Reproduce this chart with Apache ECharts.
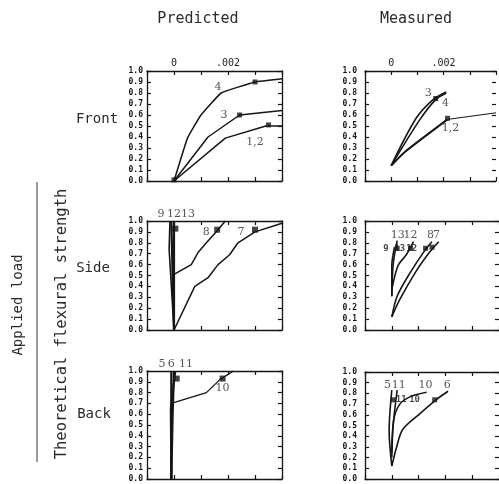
<!DOCTYPE html>
<html>
<head>
<meta charset="utf-8">
<script src="https://cdn.jsdelivr.net/npm/echarts@6/dist/echarts.min.js"></script>
<style>
  html, body { margin: 0; padding: 0; background: #fff; }
  #chart { width: 499px; height: 484px; }
</style>
</head>
<body>
<div id="chart"></div>
<script>
// Strain (in/in) on x, applied load / theoretical flexural strength on y.

// ---- Front, predicted ----
const predFront12 = [[0, 0], [0.0019, 0.39], [0.0034, 0.50], [0.004, 0.50]];
const predFront3  = [[0, 0], [0.00126, 0.40], [0.00243, 0.60], [0.004, 0.64]];
const predFront4  = [[0, 0], [0.0005, 0.39], [0.001, 0.60], [0.00175, 0.80], [0.003, 0.90], [0.004, 0.93]];
const predFrontMarks = [[0, 0.01], [0.003, 0.90], [0.00243, 0.60], [0.0035, 0.51]];
const predFrontLabels = [['4', 0.00163, 0.85], ['3', 0.00185, 0.60], ['1,2', 0.0030, 0.35]];

// ---- Front, measured ----
const measFront3  = [[0, 0.14], [0.00095, 0.57], [0.0016, 0.74], [0.0021, 0.81]];
const measFront4  = [[0, 0.14], [0.0011, 0.56], [0.0017, 0.74], [0.0021, 0.80]];
const measFront12 = [[0, 0.14], [0.0005, 0.26], [0.00215, 0.56]];
const measFront12Tail = [[0.00215, 0.56], [0.004, 0.62]];
const measFrontMarks = [[0.0017, 0.75], [0.00215, 0.57]];
const measFrontLabels = [['3', 0.00141, 0.80], ['4', 0.00207, 0.71], ['1,2', 0.00226, 0.48]];

// ---- Side, predicted ----
const predSide9  = [[0, 0], [-0.00018, 0.74], [-0.00015, 1.0]];
const predSide12 = [[0, 0], [-0.0001, 1.0]];
const predSide13 = [[0, 0], [0, 1.0]];
const predSide8  = [[0, 0], [0, 0.51], [0.00064, 0.60], [0.00089, 0.71], [0.0012, 0.80], [0.0016, 0.91], [0.0019, 1.0]];
const predSide7  = [[0, 0], [0.00077, 0.40], [0.00126, 0.48], [0.00163, 0.60], [0.00206, 0.69], [0.00237, 0.80], [0.003, 0.90], [0.004, 0.98]];
const predSideMarks = [[0.00005, 0.93], [0.0016, 0.92], [0.003, 0.92]];
const predSideLabels = [['8', 0.00119, 0.90], ['7', 0.00248, 0.90]];
const predSideTop = [['9', -0.00048, 1.065], ['12', 0, 1.065], ['13', 0.00052, 1.065]];

// ---- Side, measured ----
const measSide9  = [[0, 0.31], [0, 0.59], [0.0001, 0.76]];
const measSide13 = [[0, 0.31], [0.00005, 0.60], [0.0002, 0.82]];
const measSide12 = [[0, 0.37], [0.00023, 0.59], [0.00054, 0.69], [0.00081, 0.81]];
const measSide8  = [[0, 0.12], [0.0002, 0.31], [0.00067, 0.52], [0.00126, 0.74], [0.0015, 0.81]];
const measSide7  = [[0, 0.12], [0.0003, 0.28], [0.00091, 0.54], [0.0014, 0.71], [0.00175, 0.81]];
const measSideMarks = [[0.0002, 0.75], [0.0007, 0.75], [0.00126, 0.75], [0.0015, 0.76]];
const measSideLabels = [['13', 0.00022, 0.87], ['12', 0.0007, 0.87], ['8', 0.00144, 0.87], ['7', 0.00167, 0.87]];
const measSideTags = [['9', -0.00022, 0.75], ['13', 0.0003, 0.75], ['12', 0.00074, 0.75]];

// ---- Back, predicted ----
const predBack5  = [[-0.0001, 0], [-0.0001, 1.0]];
const predBack6  = [[-0.0001, 0], [-0.00005, 0.6], [0, 1.0]];
const predBack11 = [[-0.0001, 0], [-0.00012, 0.65], [0.00005, 1.0]];
const predBack10 = [[-0.0001, 0], [-0.0001, 0.70], [0.0012, 0.80], [0.0017, 0.92], [0.0022, 1.0]];
const predBackMarks = [[0.0001, 0.93], [0.0018, 0.93]];
const predBackLabels = [['10', 0.0018, 0.84]];
const predBackTop = [['5', -0.00044, 1.065], ['6', -0.0001, 1.065], ['11', 0.00044, 1.065]];

// ---- Back, measured ----
const measBack5  = [[0, 0.12], [-0.0001, 0.45], [0, 0.83]];
const measBack11 = [[0, 0.20], [0.00005, 0.50], [0.0002, 0.83]];
const measBack10 = [[0, 0.25], [0.00007, 0.55], [0.0003, 0.70], [0.0007, 0.77], [0.0013, 0.81]];
const measBack6  = [[0, 0.12], [0.00017, 0.29], [0.0004, 0.46], [0.001, 0.60], [0.00165, 0.74], [0.0021, 0.82]];
const measBackMarks = [[0.00005, 0.74], [0.0016, 0.74]];
const measBackLabels = [['5', -0.00016, 0.88], ['11', 0.00026, 0.88], ['10', 0.00126, 0.88], ['6', 0.00207, 0.88]];
const measBackTags = [['11', 0.00035, 0.74], ['10', 0.00085, 0.74]];

// axis ranges and tick labels
const strainMin = -0.001, strainMax = 0.004, strainStep = 0.001;
const loadMin = 0, loadMax = 1, loadStep = 0.1;
const strainTickText = { '0': '0', '0.002': '.002' };

const INK = '#151515';
const MONO = 'DejaVu Sans Mono';

// panel boxes
const panels = [
  { left: 147, top: 71,  height: 110, topLabels: true },   // front predicted
  { left: 365, top: 71,  height: 110, topLabels: true },   // front measured
  { left: 147, top: 221, height: 109, topLabels: false },  // side predicted
  { left: 365, top: 221, height: 109, topLabels: false },  // side measured
  { left: 147, top: 371, height: 108, topLabels: false },  // back predicted
  { left: 365, top: 372, height: 107, topLabels: false }   // back measured
];

const grid = [], xAxis = [], yAxis = [], series = [];
const axLine = { show: true, onZero: false, lineStyle: { color: INK, width: 1.3 } };
const tick = { show: true, inside: true, length: 4, lineStyle: { color: INK, width: 1.2 } };

panels.forEach((p, i) => {
  grid.push({ left: p.left, top: p.top, width: 135, height: p.height });
  xAxis.push({
    gridIndex: i, type: 'value', position: 'bottom',
    min: strainMin, max: strainMax, interval: strainStep,
    axisLine: axLine, axisTick: tick, axisLabel: { show: false }, splitLine: { show: false }
  });
  xAxis.push({
    gridIndex: i, type: 'value', position: 'top',
    min: strainMin, max: strainMax, interval: strainStep,
    axisLine: axLine, axisTick: tick, splitLine: { show: false },
    axisLabel: {
      show: p.topLabels, margin: 3, color: '#222', fontFamily: MONO, fontSize: 10,
      formatter: v => {
        const k = (Math.round(v * 1e6) / 1e6).toString();
        return strainTickText[k] || '';
      }
    }
  });
  yAxis.push({
    gridIndex: i, type: 'value', position: 'left',
    min: loadMin, max: loadMax, interval: loadStep,
    axisLine: axLine, axisTick: tick, splitLine: { show: false },
    axisLabel: {
      margin: i % 2 === 0 ? 4 : 8, color: INK, fontFamily: MONO, fontWeight: 'bold', fontSize: 8,
      formatter: v => v.toFixed(1)
    }
  });
  yAxis.push({
    gridIndex: i, type: 'value', position: 'right',
    min: loadMin, max: loadMax, interval: loadStep,
    axisLine: { show: i % 2 === 0, onZero: false, lineStyle: { color: INK, width: 1.3 } },
    axisTick: tick, axisLabel: { show: false }, splitLine: { show: false }
  });
});

function curve(panel, data, width, smooth) {
  series.push({
    type: 'line', xAxisIndex: panel * 2, yAxisIndex: panel * 2,
    data: data, showSymbol: false, smooth: smooth || false, clip: false,
    lineStyle: { color: INK, width: width || 1.5 }, silent: true, animation: false
  });
}
function marks(panel, data, size) {
  series.push({
    type: 'scatter', xAxisIndex: panel * 2, yAxisIndex: panel * 2,
    data: data, symbol: 'rect', symbolSize: size || 5, clip: false,
    itemStyle: { color: INK }, silent: true, animation: false
  });
}
function texts(panel, list, bold) {
  series.push({
    type: 'scatter', xAxisIndex: panel * 2, yAxisIndex: panel * 2,
    data: list.map(t => ({ name: t[0], value: [t[1], t[2]] })),
    symbolSize: 0, clip: false, silent: true, animation: false,
    label: {
      show: true, position: 'inside', formatter: '{b}',
      color: bold ? INK : '#2a2a2a',
      fontFamily: bold ? MONO : 'DejaVu Serif',
      fontWeight: bold ? 'bold' : 'normal',
      fontSize: bold ? 9 : 11
    }
  });
}

// Front
curve(0, predFront12); curve(0, predFront3); curve(0, predFront4, 1.5, 0.1);
marks(0, predFrontMarks); texts(0, predFrontLabels);
curve(1, measFront3, 1.6, 0.3); curve(1, measFront4, 1.6, 0.3);
curve(1, measFront12, 2, 0.2); curve(1, measFront12Tail, 1);
marks(1, measFrontMarks); texts(1, measFrontLabels);

// Side
curve(2, predSide9, 1.6); curve(2, predSide12, 2.2); curve(2, predSide13, 2.2);
curve(2, predSide8, 1.5); curve(2, predSide7, 1.5);
marks(2, predSideMarks, 6); texts(2, predSideLabels); texts(2, predSideTop);
curve(3, measSide9, 1.6, 0.3); curve(3, measSide13, 1.6, 0.3); curve(3, measSide12, 1.6, 0.3);
curve(3, measSide8, 1.6, 0.3); curve(3, measSide7, 1.6, 0.3);
marks(3, measSideMarks); texts(3, measSideLabels); texts(3, measSideTags, true);

// Back
curve(4, predBack5, 2.2); curve(4, predBack6, 2.2); curve(4, predBack11, 2);
curve(4, predBack10, 1.3);
marks(4, predBackMarks, 6); texts(4, predBackLabels); texts(4, predBackTop);
curve(5, measBack5, 1.6, 0.3); curve(5, measBack11, 1.6, 0.3);
curve(5, measBack10, 1.6, 0.3); curve(5, measBack6, 1.6, 0.3);
marks(5, measBackMarks); texts(5, measBackLabels); texts(5, measBackTags, true);

const headStyle = { fill: '#2a2a2a', font: '15px "DejaVu Sans Mono"', textAlign: 'center', textVerticalAlign: 'middle' };
const rowStyle = { fill: '#2a2a2a', font: '14px "DejaVu Sans Mono"', textAlign: 'center', textVerticalAlign: 'middle' };

const graphic = [
  { type: 'text', x: 198, y: 19, style: Object.assign({ text: 'Predicted' }, headStyle) },
  { type: 'text', x: 416, y: 19, style: Object.assign({ text: 'Measured' }, headStyle) },
  { type: 'text', x: 97, y: 119, style: Object.assign({ text: 'Front' }, rowStyle) },
  { type: 'text', x: 93, y: 268, style: Object.assign({ text: 'Side' }, rowStyle) },
  { type: 'text', x: 94, y: 414, style: Object.assign({ text: 'Back' }, rowStyle) },
  { type: 'text', x: 18, y: 305, rotation: Math.PI / 2,
    style: { text: 'Applied load', fill: '#2a2a2a', font: '14px "DejaVu Sans Mono"', textAlign: 'center', textVerticalAlign: 'middle' } },
  { type: 'text', x: 62, y: 324, rotation: Math.PI / 2,
    style: { text: 'Theoretical flexural strength', fill: '#2a2a2a', font: '15.5px "DejaVu Sans Mono"', textAlign: 'center', textVerticalAlign: 'middle' } },
  { type: 'line', shape: { x1: 37, y1: 182, x2: 37, y2: 462 }, style: { stroke: '#333', lineWidth: 1 } }
];

const chart = echarts.init(document.getElementById('chart'), null, { renderer: 'canvas' });
chart.setOption({ animation: false, backgroundColor: '#fff', grid, xAxis, yAxis, series, graphic });
</script>
</body>
</html>
